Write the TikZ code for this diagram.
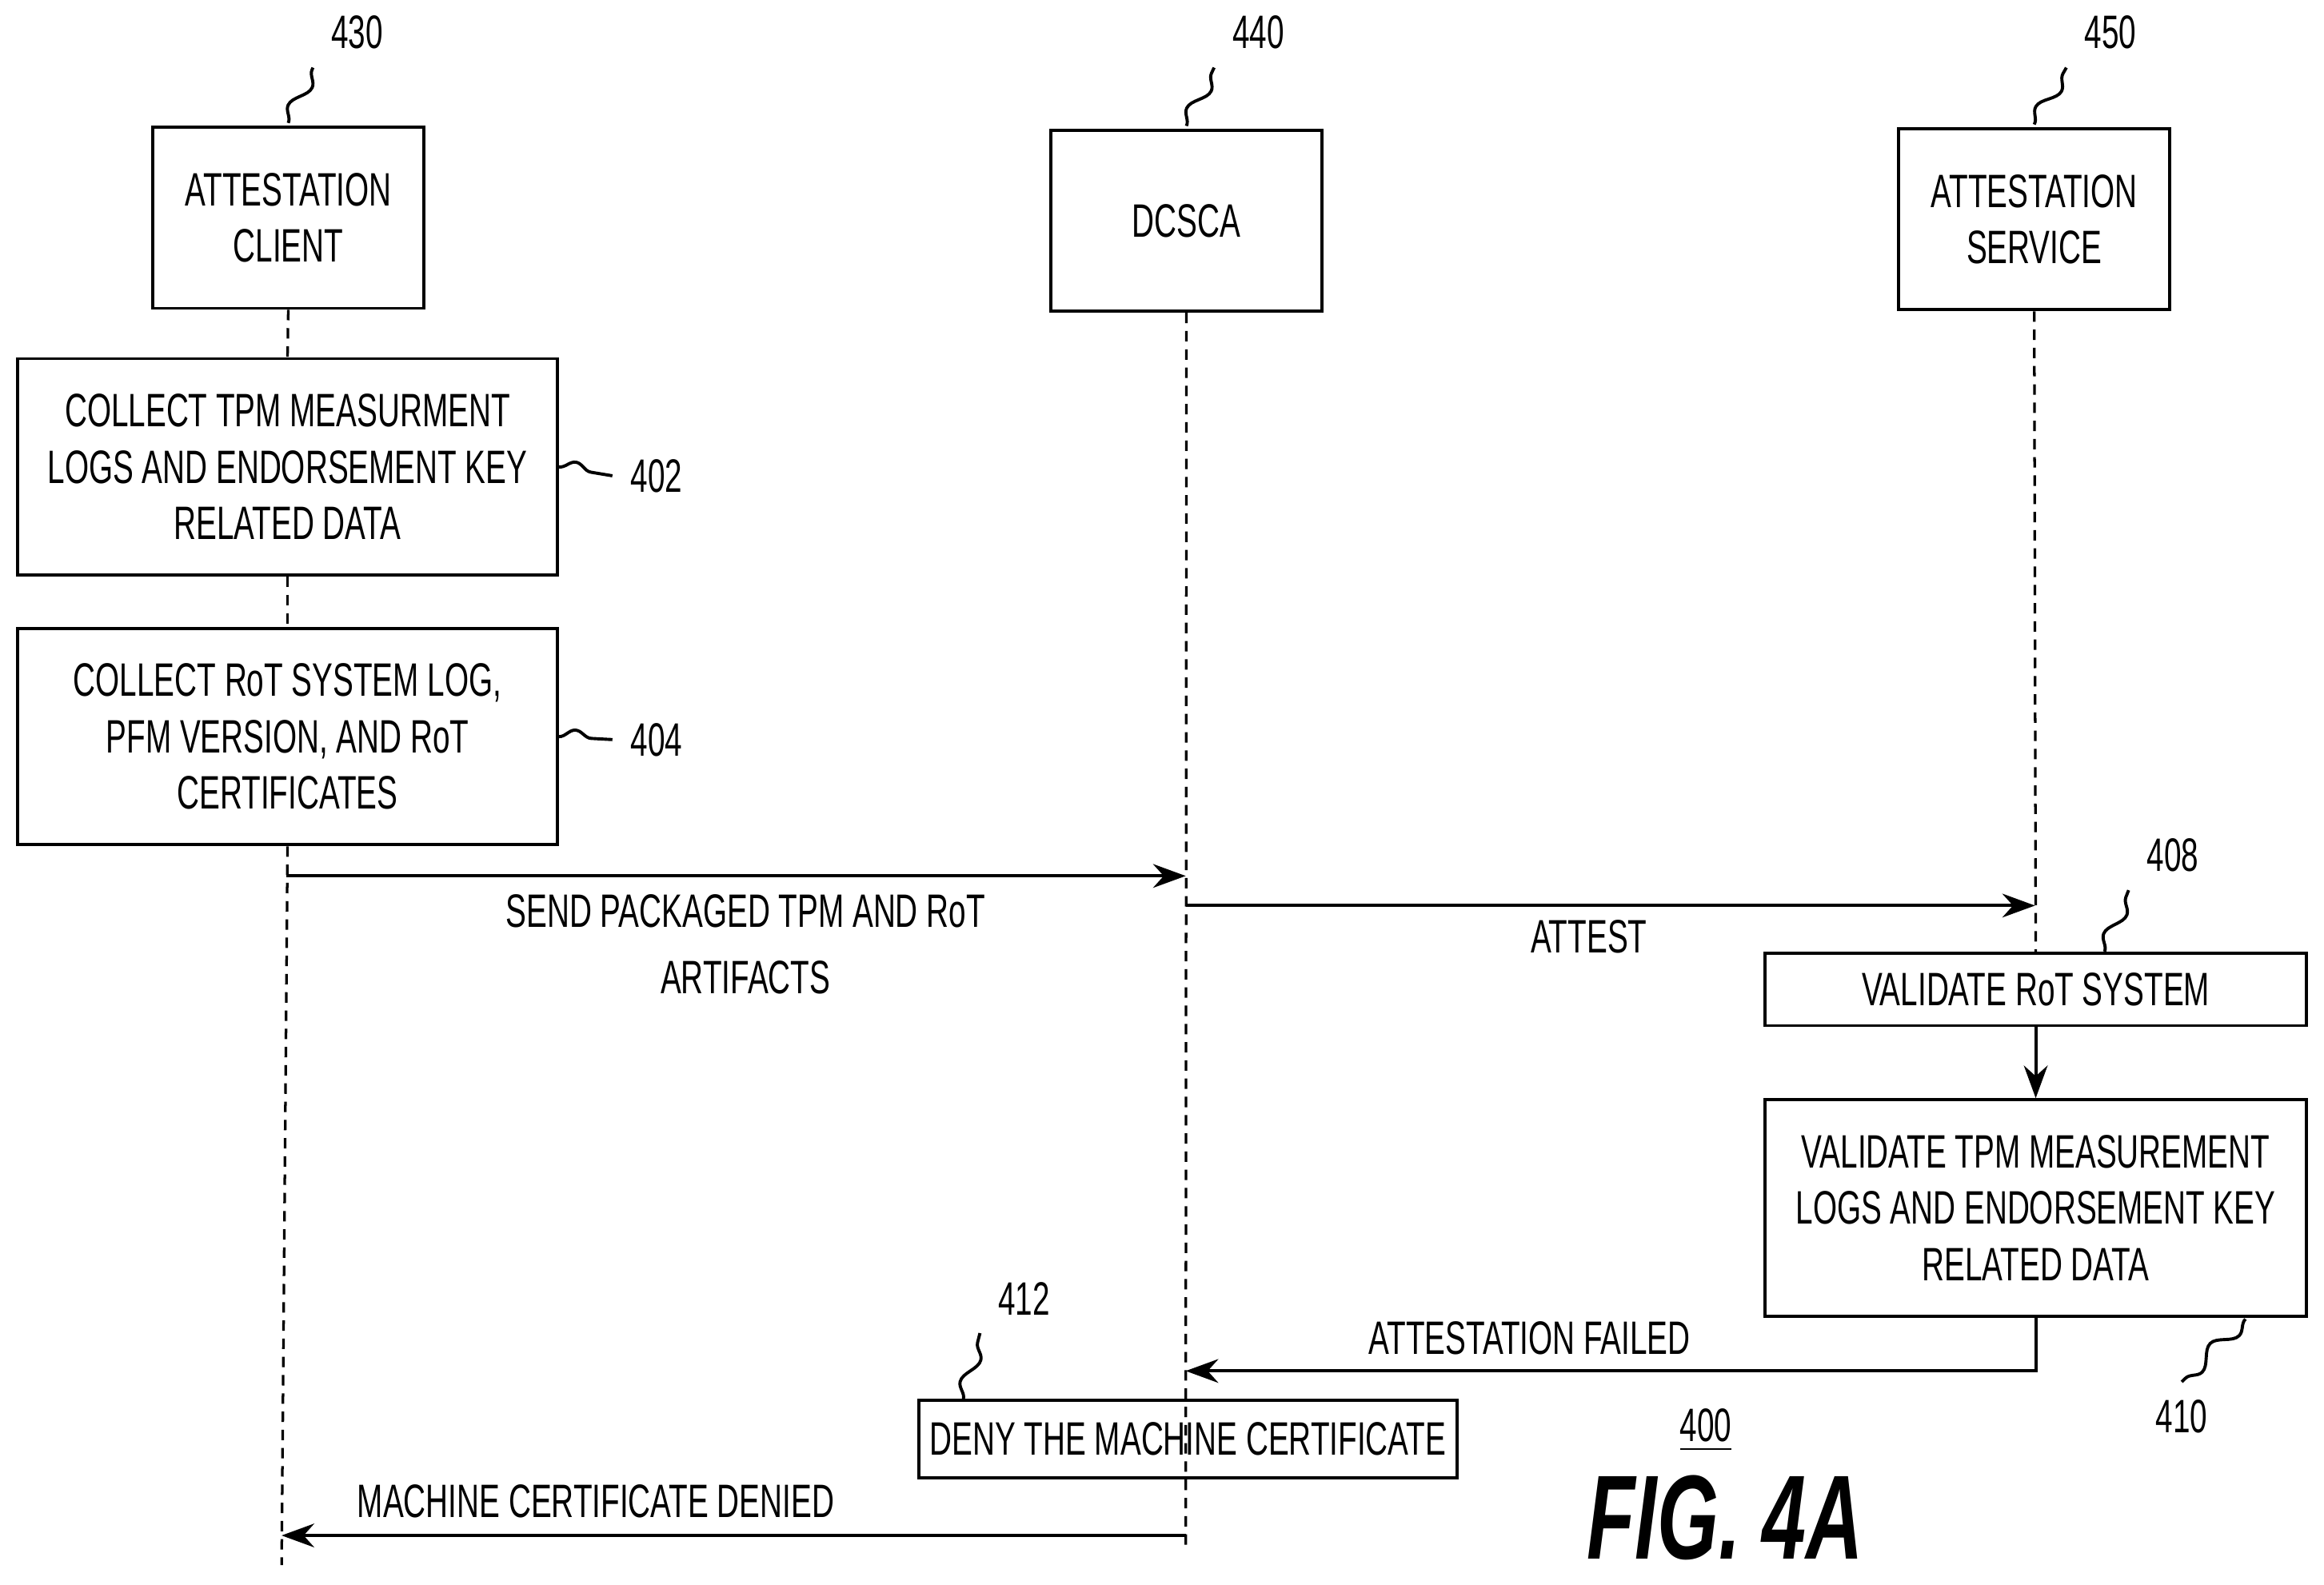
\documentclass[tikz,border=0pt]{standalone}
\usepackage{fontspec}
\setmainfont{Liberation Sans}[FakeStretch=0.66]
\usetikzlibrary{arrows.meta,decorations.pathmorphing}
\begin{document}
\begin{tikzpicture}[x=0.1mm,y=-0.1mm,
 box/.style={draw,line width=0.6pt,align=center,font=\fontsize{9}{10.8}\selectfont,inner sep=0pt},
 lbl/.style={font=\fontsize{9}{10.8}\selectfont},
 life/.style={dash pattern=on 2pt off 1.5pt,line width=0.5pt},
 arr/.style={line width=0.6pt,-{Stealth[length=2.2mm,width=1.6mm]}},
 sq/.style={line width=0.6pt,decorate,decoration={snake,amplitude=0.5mm,segment length=3.5mm}}]
\useasboundingbox (0,0) rectangle (1568,1069);
% boxes
\node[box,minimum width=18.3mm,minimum height=12.2mm] (c) at (194.5,147) {ATTESTATION\\CLIENT};
\node[box,minimum width=18.3mm,minimum height=12.2mm] (d) at (800.5,149) {DCSCA};
\node[box,minimum width=18.3mm,minimum height=12.2mm] (s) at (1372.5,148) {ATTESTATION\\SERVICE};
\node[box,minimum width=36.4mm,minimum height=14.6mm] (b402) at (194,315) {COLLECT TPM MEASURMENT\\LOGS AND ENDORSEMENT KEY\\RELATED DATA};
\node[box,minimum width=36.4mm,minimum height=14.6mm] (b404) at (194,497) {COLLECT RoT SYSTEM LOG,\\PFM VERSION, AND RoT\\CERTIFICATES};
\node[box,minimum width=36.5mm,minimum height=4.9mm] (b408) at (1373.5,667.5) {VALIDATE RoT SYSTEM};
\node[box,minimum width=36.5mm,minimum height=14.6mm] (b410) at (1373.5,815) {VALIDATE TPM MEASUREMENT\\LOGS AND ENDORSEMENT KEY\\RELATED DATA};
\node[box,minimum width=36.3mm,minimum height=5.2mm] (b412) at (801.5,971) {DENY THE MACHINE CERTIFICATE};
% labels
\node[lbl] (l430) at (241,22) {430};
\node[lbl] (l440) at (849,22) {440};
\node[lbl] (l450) at (1424,22) {450};
\node[lbl] (l402) at (443,321) {402};
\node[lbl] (l404) at (443,499) {404};
\node[lbl] (l408) at (1466,577) {408};
\node[lbl] (l410) at (1472,956) {410};
\node[lbl] (l412) at (691,876) {412};
\node[lbl] (l400) at (1151,965) {\underline{400}};
\node[font=\fontsize{23}{26}\selectfont\bfseries\itshape] (fig) at (1164,1024) {FIG. 4A};
\draw[sq] (c.north) ++(0,-2) to (l430.south west);
\draw[sq] (d.north) ++(0,-2) to (l440.south west);
\draw[sq] (s.north) ++(0,-2) to (l450.south west);
\draw[sq] (b402.east) to (l402.west);
\draw[sq] (b404.east) to (l404.west);
\draw[sq] (1420,642) to (l408.south west);
\draw[sq] (1515,890) to (l410.north);
\draw[sq] (650,944) to (l412.south west);
% lifelines
\coordinate (cend) at (190,1056);
\coordinate (dend) at (800,1046);
\draw[life] (c.south) -- (b402.north);
\draw[life] (b402.south) -- (b404.north);
\draw[life] (b404.south) -- (cend);
\draw[life] (d.south) -- (dend);
\draw[life] (s.south) -- (b408.north);
% messages
\coordinate (a1) at (193,591); \coordinate (a1e) at (800,591);
\draw[arr] (a1) -- (a1e);
\node[lbl,align=center] at (503,637) {SEND PACKAGED TPM AND RoT\\[2pt]ARTIFACTS};
\coordinate (a2) at (800,611); \coordinate (a2e) at (1373,611);
\draw[arr] (a2) -- (a2e);
\node[lbl] at (1072,632) {ATTEST};
\draw[arr] (b408.south) -- (b410.north);
\coordinate (a3e) at (800,925);
\draw[arr] (b410.south) |- (a3e);
\node[lbl] at (1032,903) {ATTESTATION FAILED};
\coordinate (a4) at (800,1036); \coordinate (a4e) at (190,1036);
\draw[arr] (a4) -- (a4e);
\node[lbl] at (402,1013) {MACHINE CERTIFICATE DENIED};
\end{tikzpicture}
\end{document}
